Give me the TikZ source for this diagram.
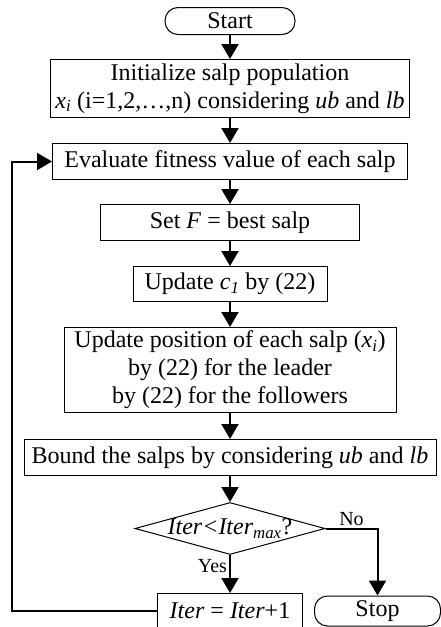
\documentclass[tikz,border=0pt]{standalone}
\usepackage{fontspec}
\setmainfont{Liberation Serif}
\usepackage{tikz}
\usetikzlibrary{positioning,arrows.meta,shapes.geometric}

\begin{document}
\begin{tikzpicture}[x=1pt, y=1pt, node distance=24pt,
  every node/.style={font=\fontsize{24}{28}\selectfont},
  box/.style={draw, line width=1pt, inner sep=2pt, align=center, minimum height=36pt},
  term/.style={box, rounded corners=13pt, minimum height=27pt},
  cond/.style={draw, line width=1pt, shape=diamond, aspect=1, inner sep=0pt, minimum width=190pt, minimum height=52pt},
  lbl/.style={font=\fontsize{20}{24}\selectfont, inner sep=2pt},
  arr/.style={line width=2pt, -{Triangle[width=17pt,length=15pt]}}]
  \useasboundingbox (0,0) rectangle (441,-627);
  \node[term, minimum width=130pt] (start) at (230,-21) {Start};
  \node[box, below=of start, minimum width=359pt, minimum height=58pt] (init)
    {Initialize salp population\\\textit{x}\textsubscript{\textit{i}} (i=1,2,\ldots,n) considering \textit{ub} and \textit{lb}};
  \node[box, below=25pt of init, minimum width=355pt] (eval) {Evaluate fitness value of each salp};
  \node[box, below=of eval, minimum width=259pt] (best) {Set \textit{F} = best salp};
  \node[box, below=25pt of best, minimum width=194pt, minimum height=35pt] (coef) {Update \textit{c}\textsubscript{\textit{1}} by (22)};
  \node[box, below=25pt of coef, minimum width=332pt, minimum height=85pt] (upd)
    {Update position of each salp (\textit{x}\textsubscript{\textit{i}})\\by (22) for the leader\\by (22) for the followers};
  \node[box, below=26pt of upd, minimum width=412pt] (bnd) {Bound the salps by considering \textit{ub} and \textit{lb}};
  \node[cond, below=26pt of bnd] (dec) {\makebox[0pt]{\textit{Iter<Iter}\textsubscript{\textit{max}}?}};
  \node[box, below=38pt of dec, minimum width=145pt, minimum height=35pt] (iter) {\textit{Iter} = \textit{Iter}+1};
  \node[term, right=11pt of iter, minimum width=126pt, minimum height=30pt] (stop) {Stop};
  \coordinate (back) at (12,0);
  % main flow
  \draw[arr] (start) -- (init);
  \draw[arr] (init) -- (eval);
  \draw[arr] (eval) -- (best);
  \draw[arr] (best) -- (coef);
  \draw[arr] (coef) -- (upd);
  \draw[arr] (upd) -- (bnd);
  \draw[arr] (bnd) -- (dec);
  \draw[arr] (dec) -- node[lbl, left, pos=0.3] {Yes} (iter);
  \draw[arr] (dec.east) -| node[lbl, above, pos=0.25] {No} (stop.north);
  % loop back
  \draw[arr] (iter.west) -- (iter.west -| back) |- (eval.west);
\end{tikzpicture}
\end{document}
